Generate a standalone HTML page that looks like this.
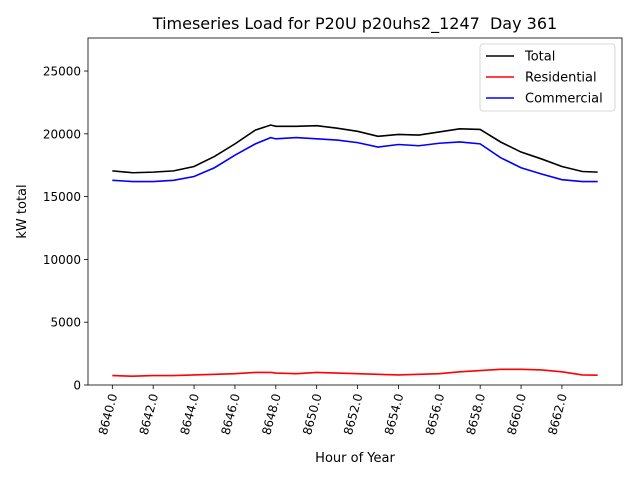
<!DOCTYPE html>
<html><head><meta charset="utf-8"><style>
body{margin:0;background:#fff;font-family:"Liberation Sans","DejaVu Sans",sans-serif;}
svg text{font-family:"DejaVu Sans","Liberation Sans",sans-serif;}
</style></head><body>
<svg id="chart" width="640" height="480"></svg>
<script>
const hours=[8640,8641,8642,8643,8644,8645,8646,8647,8647.75,8648,8649,8650,8651,8652,8653,8654,8655,8656,8657,8658,8659,8660,8661,8662,8663,8663.75];
const totalLoad=[17050,16900,16950,17050,17400,18200,19200,20300,20700,20600,20600,20650,20450,20200,19800,19950,19900,20150,20400,20350,19350,18550,18000,17400,17000,16950];
const residentialLoad=[750,700,750,750,800,850,900,1000,1000,950,900,1000,950,900,850,800,850,900,1050,1150,1250,1250,1200,1050,800,780];
const commercialLoad=[16300,16200,16200,16300,16600,17300,18300,19200,19700,19600,19700,19600,19500,19300,18950,19150,19050,19250,19350,19200,18100,17300,16800,16350,16200,16200];
const xTicks=[8640,8642,8644,8646,8648,8650,8652,8654,8656,8658,8660,8662];
const yTicks=[0,5000,10000,15000,20000,25000];
const NS="http://www.w3.org/2000/svg";
const svg=document.getElementById('chart');
const L=88,R=622,T=38,B=385;
const x0=8638.81,x1=8664.94,yMax=27630;
const sx=v=>L+(v-x0)/(x1-x0)*(R-L);
const sy=v=>B-v/yMax*(B-T);
function el(tag,attrs,parent){const e=document.createElementNS(NS,tag);for(const k in attrs)e.setAttribute(k,attrs[k]);(parent||svg).appendChild(e);return e;}
const title=el('text',{x:355,y:29,'text-anchor':'middle','font-size':16,fill:'#000',style:'white-space:pre'});title.textContent='Timeseries Load for P20U p20uhs2_1247  Day 361';


xTicks.forEach(t=>{const g=el('g',{});


el('line',{x1:sx(t),x2:sx(t),y1:B,y2:B+4,stroke:'#000','stroke-width':0.8},g);
const tx=el('text',{x:0,y:0,'font-size':12,'text-anchor':'end',transform:`translate(${sx(t)+5},${B+10}) rotate(-75)`},g);tx.textContent=t.toFixed(1);});
yTicks.forEach(t=>{const g=el('g',{});


el('line',{x1:L-4,x2:L,y1:sy(t),y2:sy(t),stroke:'#000','stroke-width':0.8},g);
const tx=el('text',{x:L-7,y:sy(t)+4.5,'font-size':12,'text-anchor':'end'},g);tx.textContent=t;});
const xl=el('text',{x:355,y:462,'font-size':13,'text-anchor':'middle'});xl.textContent='Hour of Year';


const yl=el('text',{x:0,y:0,'font-size':13,'text-anchor':'middle',transform:`translate(26,${(T+B)/2}) rotate(-90)`});yl.textContent='kW total';


function line(arr,color,name){const p=el('polyline',{points:hours.map((h,i)=>sx(h)+','+sy(arr[i])).join(' '),fill:'none',stroke:color,'stroke-width':1.6});

}
line(totalLoad,'#000','total-line');
line(residentialLoad,'#f00','residential-line');
line(commercialLoad,'#00f','commercial-line');
const frame=el('rect',{x:L,y:T,width:R-L,height:B-T,fill:'none',stroke:'#000','stroke-width':0.8});


const lg=el('g',{});


el('rect',{x:480,y:44,width:135,height:67,rx:3,fill:'#fff',stroke:'#ccc','stroke-width':0.8},lg);
[['Total','#000',56],['Residential','#f00',77],['Commercial','#00f',98]].forEach(([n,c,y])=>{
const g=el('g',{},lg);


el('line',{x1:486,x2:514,y1:y,y2:y,stroke:c,'stroke-width':1.6},g);
const t=el('text',{x:525,y:y+4.5,'font-size':13},g);t.textContent=n;});
</script>
</body></html>
